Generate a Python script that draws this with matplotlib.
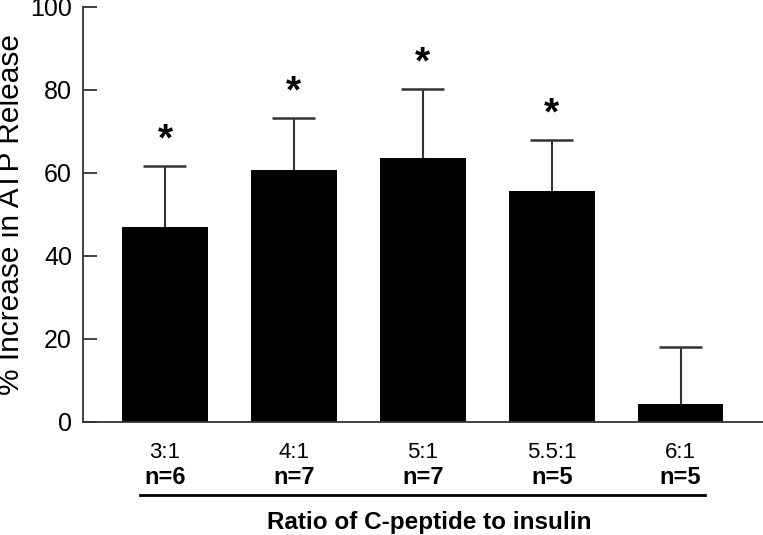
import matplotlib.pyplot as plt
import matplotlib.transforms as mtransforms

# Data
ratios = ['3:1', '4:1', '5:1', '5.5:1', '6:1']
n_labels = ['n=6', 'n=7', 'n=7', 'n=5', 'n=5']
means = [47.0, 60.8, 63.6, 55.7, 4.3]
errors = [14.6, 12.5, 16.6, 12.3, 13.7]
significant = [True, True, True, True, False]

plt.rcParams['font.family'] = ['Liberation Sans', 'DejaVu Sans']

fig = plt.figure(figsize=(7.63, 5.35), dpi=100)
ax = fig.add_axes([83 / 763, 113.3 / 535, 1 - 83 / 763, 414.7 / 535])

x = list(range(len(ratios)))
ax.bar(x, means, width=0.667, color='black', zorder=2)

# upper error bars only
tops = [m + e for m, e in zip(means, errors)]
ax.vlines(x, means, tops, color='#333333', linewidth=1.5, zorder=3)
ax.hlines(tops, [xi - 0.167 for xi in x], [xi + 0.167 for xi in x],
          color='#333333', linewidth=1.8, zorder=3)

# significance stars
for xi, t, s in zip(x, tops, significant):
    if s:
        ax.text(xi, t + 6.2, '*', ha='center', va='center',
                fontsize=28, fontweight='bold')

ax.set_xlim(-0.636, 4.64)
ax.set_ylim(0, 100)
ax.set_yticks([0, 20, 40, 60, 80, 100])
ax.tick_params(axis='y', direction='in', length=10, width=1.3, color='#333333',
               labelsize=18, pad=8)
ax.set_xticks(x)
ax.set_xticklabels([])
ax.tick_params(axis='x', length=0)

for side in ['top', 'right']:
    ax.spines[side].set_visible(False)
for side in ['left', 'bottom']:
    ax.spines[side].set_linewidth(1.3)
    ax.spines[side].set_color('#333333')

# ratio labels, n labels, underline and x title below the axis
trans = mtransforms.blended_transform_factory(ax.transData, ax.transAxes)
for xi, r, lab in zip(x, ratios, n_labels):
    ax.text(xi, -36.5 / 414.7, r, transform=trans, ha='center', va='baseline',
            fontsize=16)
    ax.text(xi, -62.5 / 414.7, lab, transform=trans, ha='center', va='baseline',
            fontsize=17, fontweight='bold')
ax.plot([-0.19, 4.19], [-72.8 / 414.7] * 2, transform=trans, color='black',
        linewidth=2, clip_on=False)
ax.text(2.05, -107.5 / 414.7, 'Ratio of C-peptide to insulin', transform=trans,
        ha='center', va='baseline', fontsize=17.5, fontweight='bold')

ax.set_ylabel('% Increase in ATP Release', fontsize=21.5)
ax.yaxis.set_label_coords(-58 / 680, 0.5)

fig.savefig('out.png', dpi=100)
